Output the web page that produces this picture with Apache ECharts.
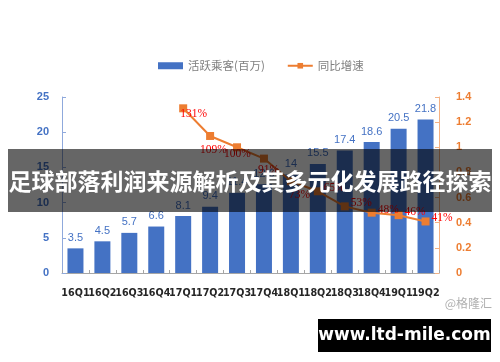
<!DOCTYPE html>
<html><head><meta charset="utf-8">
<script src="https://cdn.jsdelivr.net/npm/echarts@6/dist/echarts.min.js"></script>
<style>html,body{margin:0;padding:0;background:#fff}#c{width:500px;height:362px}</style>
</head><body><div id="c"></div>
<script>
var categories = ['16Q1','16Q2','16Q3','16Q4','17Q1','17Q2','17Q3','17Q4','18Q1','18Q2','18Q3','18Q4','19Q1','19Q2'];
var riders = [3.5, 4.5, 5.7, 6.6, 8.1, 9.4, 11.4, 12.6, 14, 15.5, 17.4, 18.6, 20.5, 21.8];
var growth = ['-', '-', '-', '-', 1.31, 1.09, 1.00, 0.91, 0.73, 0.65, 0.53, 0.48, 0.46, 0.41];
var leftTicks = {min: 0, max: 25, interval: 5};
var rightTicks = {min: 0, max: 1.4, interval: 0.2};
var barName = '活跃乘客(百万)';
var lineName = '同比增速';
var title = '足球部落利润来源解析及其多元化发展路径探索';

var lineData = growth.map(function (v, i) {
  if (v === '-') return '-';
  var pos = i < 9 ? [ [1,10],[-6,18],[-9,11],[-2,15],[2,18] ][i-4] : [10,1];
  return {value: v, label: {position: pos, align: 'left', verticalAlign: 'middle'}};
});

var chart = echarts.init(document.getElementById('c'), null, {renderer: 'canvas'});
chart.setOption({
  animation: false,
  legend: {
    left: 153, top: 55, itemGap: 22, itemWidth: 25, itemHeight: 7,
    textStyle: {color: '#7f7f7f', fontSize: 11.5, fontFamily: 'Noto Sans CJK SC'},
    data: [{name: barName, icon: 'rect'}, {name: lineName}]
  },
  grid: {left: 62, right: 61, top: 97, bottom: 89},
  xAxis: {
    type: 'category', data: categories,
    axisLine: {lineStyle: {color: '#a6a6a6'}},
    axisTick: {show: true, alignWithLabel: false, inside: true, length: 3, lineStyle: {color: '#a6a6a6'}},
    axisLabel: {interval: 0, color: '#262626', fontSize: 9.6, fontWeight: 'bold', fontFamily: 'DejaVu Sans', margin: 15}
  },
  yAxis: [{
    type: 'value', min: leftTicks.min, max: leftTicks.max, interval: leftTicks.interval,
    splitLine: {show: false},
    axisLine: {show: true, lineStyle: {color: '#8fa9dc'}},
    axisTick: {show: true, inside: true, length: 4, lineStyle: {color: '#8fa9dc'}},
    axisLabel: {color: '#4472c4', fontSize: 11, fontWeight: 'bold', fontFamily: 'Liberation Sans', margin: 13}
  }, {
    type: 'value', min: rightTicks.min, max: rightTicks.max, interval: rightTicks.interval,
    splitLine: {show: false},
    axisLine: {show: true, lineStyle: {color: '#f4b183'}},
    axisTick: {show: true, inside: true, length: 4, lineStyle: {color: '#f4b183'}},
    axisLabel: {color: '#ed7d31', fontSize: 11, fontWeight: 'bold', fontFamily: 'Liberation Sans', margin: 17}
  }],
  series: [{
    name: barName, type: 'bar', data: riders, barWidth: 16,
    itemStyle: {color: '#4472c4'},
    label: {show: true, position: 'top', distance: 5, color: '#4472c4', fontSize: 11, fontFamily: 'Liberation Sans'}
  }, {
    name: lineName, type: 'line', yAxisIndex: 1, data: lineData,
    symbol: 'rect', symbolSize: 8,
    lineStyle: {color: '#ed7d31', width: 2}, itemStyle: {color: '#ed7d31'},
    label: {show: true, color: '#ff0000', fontSize: 11.5, fontFamily: 'Liberation Serif',
      formatter: function (p) { return Math.round(p.value * 100) + '%'; }}
  }],
  graphic: [
    {type: 'rect', z: 100, shape: {x: 8, y: 149, width: 484, height: 63}, style: {fill: 'rgba(0,0,0,0.6)'}},
    {type: 'text', z: 101, x: 250, y: 181, style: {text: title, fill: '#fff', font: 'bold 23px "Noto Sans CJK SC"', align: 'center', verticalAlign: 'middle'}},
    {type: 'text', z: 101, x: 492, y: 303, style: {text: '@格隆汇', fill: '#b0b0b0', font: '12px "Noto Sans CJK SC"', align: 'right', verticalAlign: 'middle'}},
    {type: 'rect', z: 100, shape: {x: 318, y: 319, width: 173, height: 33}, style: {fill: '#000'}},
    {type: 'text', z: 101, x: 404.5, y: 336, style: {text: 'www.ltd-mile.com', fill: '#fff', font: 'bold 17px "DejaVu Sans"', align: 'center', verticalAlign: 'middle'}}
  ]
});
</script></body></html>
